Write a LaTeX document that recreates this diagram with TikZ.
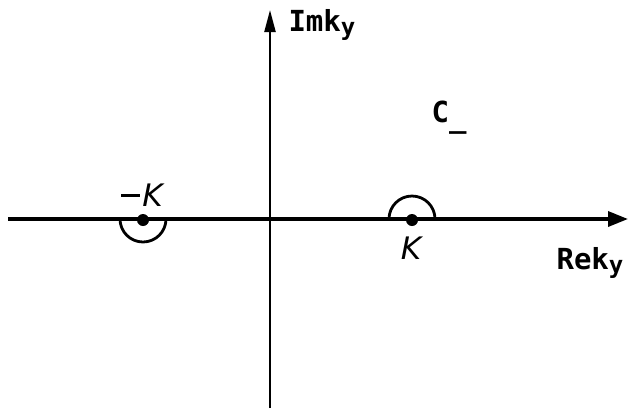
\documentclass[tikz,border=0pt]{standalone}
\usepackage{fontspec}
\setmonofont{DejaVu Sans Mono}
\setsansfont{DejaVu Sans}
\usetikzlibrary{arrows.meta}
\newcommand{\mybar}{\rule[0.3em]{0.6em}{0.1em}\hspace{0.08em}}
\newcommand{\subsc}[1]{\raisebox{-0.3ex}{\fontsize{24}{24}\selectfont #1}}
\begin{document}
\begin{tikzpicture}[x=1pt,y=-1pt,
  axis/.style={line width=3.4pt,-{Triangle[length=20pt,width=15pt]}},
  vaxis/.style={line width=2.2pt,-{Triangle[length=22pt,width=11pt]}},
  contour/.style={line width=2.8pt},
  pole/.style={circle,fill=black,inner sep=0pt,minimum size=12pt},
  lbl/.style={font=\fontsize{29}{31}\selectfont\ttfamily\bfseries},
  klbl/.style={font=\fontsize{31}{34}\selectfont\sffamily\itshape}]
\useasboundingbox (0,0) rectangle (628,408);
\coordinate (xl) at (8,219);
\coordinate (xr) at (628,219);
\coordinate (yb) at (270,408);
\coordinate (yt) at (270,10);
\draw[axis] (xl) -- (xr);
\draw[vaxis] (yb) -- (yt);
\node[pole] (mk) at (143,220) {};
\node[pole] (pk) at (412,220) {};
\draw[contour] (120,219) arc[start angle=180,end angle=0,radius=23];
\draw[contour] (389,219) arc[start angle=180,end angle=360,radius=23];
\node[klbl] (mklbl) at (142,195) {\mybar K};
\node[klbl] (pklbl) at (411,248) {K};
\node[lbl,anchor=west] (im) at (285,25) {Imk\subsc{y}};
\node[lbl,anchor=west] (re) at (553,263) {Rek\subsc{y}};
\node[lbl,anchor=west] (cm) at (428,118) {C\raisebox{-0.3ex}{\_}};
\end{tikzpicture}
\end{document}
